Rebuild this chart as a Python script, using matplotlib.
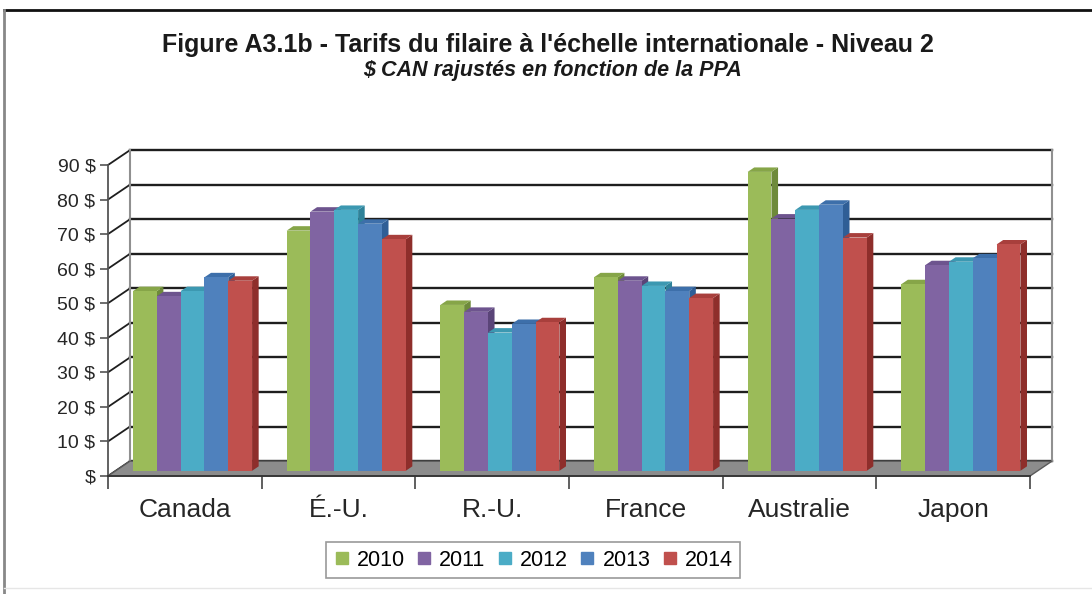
import numpy as np
import matplotlib.pyplot as plt
from matplotlib.patches import Polygon
from matplotlib.lines import Line2D

plt.rcParams['font.family'] = ['Liberation Sans', 'DejaVu Sans']

# données
pays = ['Canada', 'É.-U.', 'R.-U.', 'France', 'Australie', 'Japon']
annees = ['2010', '2011', '2012', '2013', '2014']
v2010 = [52, 69.5, 48, 56, 86.5, 54]
v2011 = [50.5, 75, 46, 55, 73, 59.5]
v2012 = [52, 75.5, 40, 53.5, 75.5, 60.5]
v2013 = [56, 71.5, 42.5, 52, 77, 61.5]
v2014 = [55, 67, 43, 50, 67.5, 65.5]
series = [v2010, v2011, v2012, v2013, v2014]
yticks = [0, 10, 20, 30, 40, 50, 60, 70, 80, 90]

couleurs = ['#9BBB59', '#8064A2', '#4BACC6', '#4F81BD', '#C0504D']
cotes = ['#6E8A3A', '#5A4478', '#2E8299', '#2F5E96', '#8E2E2B']
dessus = ['#86A548', '#6D548E', '#3C98B1', '#3D6FAA', '#A83F3C']

# pseudo 3D : décalage de profondeur en unités de données
DX, DY = 0.143, 4.3
t0, t1 = 0.35, 0.65
w = 0.155

fig = plt.figure(figsize=(10.92, 5.94), dpi=100)
ax = fig.add_axes([108/1092, 118/594, 922/1092, 311/594])
ax.set_xlim(0, 6)
ax.set_ylim(0, 90)
ax.patch.set_visible(False)

# mur du fond + quadrillage
for v in yticks:
    ax.plot([DX, 6 + DX], [v + DY, v + DY], color='#1e1e1e', lw=1.7, zorder=1, clip_on=False)
    ax.plot([0, DX], [v, v + DY], color='#1e1e1e', lw=1.3, zorder=1, clip_on=False)
ax.plot([DX, DX], [DY, 90 + DY], color='#909090', lw=1.5, zorder=1, clip_on=False)
ax.plot([6 + DX, 6 + DX], [DY, 90 + DY], color='#909090', lw=1.5, zorder=1, clip_on=False)

# sol
sol = Polygon([(0, 0), (6, 0), (6 + DX, DY), (DX, DY)], closed=True,
              facecolor='#8c8c8c', edgecolor='#5a5a5a', lw=1.0, zorder=2, clip_on=False)
ax.add_patch(sol)

# barres
x = np.arange(len(pays)) + 0.5
d = t1 - t0
z = 3
for i in range(len(pays)):
    for k, vals in enumerate(series):
        x0 = x[i] + (k - 2) * w - w / 2 + t0 * DX
        b = t0 * DY
        h = vals[i]
        top = b + h
        side = Polygon([(x0 + w, b), (x0 + w, top), (x0 + w + d * DX, top + d * DY),
                        (x0 + w + d * DX, b + d * DY)], closed=True,
                       facecolor=cotes[k], edgecolor='none', zorder=z, clip_on=False)
        ax.add_patch(side)
        dessus_p = Polygon([(x0, top), (x0 + w, top), (x0 + w + d * DX, top + d * DY),
                            (x0 + d * DX, top + d * DY)], closed=True,
                           facecolor=dessus[k], edgecolor='none', zorder=z, clip_on=False)
        ax.add_patch(dessus_p)
        ax.bar(x0, h, bottom=b, width=w, align='edge', color=couleurs[k],
               edgecolor='none', zorder=z + 0.5, clip_on=False)
        z += 1

# axes
for s in ['top', 'right']:
    ax.spines[s].set_visible(False)
ax.spines['left'].set_color('#555555')
ax.spines['left'].set_linewidth(1.3)
ax.spines['bottom'].set_color('#333333')
ax.spines['bottom'].set_linewidth(1.3)
ax.spines['left'].set_zorder(200)
ax.spines['bottom'].set_zorder(200)

ax.set_yticks(yticks)
ax.set_yticklabels([f'{v} $' if v else '$' for v in yticks])
ax.tick_params(axis='y', length=6, width=1.2, color='#555555', labelsize=14,
               labelcolor='#262626', pad=3)

ax.set_xticks(range(7))
ax.set_xticklabels([])
ax.tick_params(axis='x', which='major', length=9, width=1.2, color='#444444')
ax.set_xticks(x, minor=True)
ax.set_xticklabels(pays, minor=True)
ax.tick_params(axis='x', which='minor', length=0, labelsize=19, labelcolor='#262626', pad=16)

# titres
fig.text(0.502, 0.924, "Figure A3.1b - Tarifs du filaire à l'échelle internationale - Niveau 2",
         ha='center', va='center', fontsize=18, fontweight='bold', color='#1a1a1a')
fig.text(0.506, 0.882, '$ CAN rajustés en fonction de la PPA', ha='center', va='center',
         fontsize=15.5, fontweight='bold', fontstyle='italic', color='#1a1a1a')

# légende
poignees = [Line2D([], [], marker='s', ls='none', markersize=8, color=c) for c in couleurs]
leg = fig.legend(poignees, annees, loc='center', bbox_to_anchor=(0.488, 0.057), ncol=5,
                 frameon=True, fancybox=False, edgecolor='#808080', fontsize=15.5,
                 handlelength=0.8, handletextpad=0.3, columnspacing=0.5, borderpad=0.35)
leg.get_frame().set_linewidth(1.2)

# cadre de la figure
fig.add_artist(Line2D([4/1092, 1], [1 - 10/594, 1 - 10/594], color='#111111', lw=2))
fig.add_artist(Line2D([4/1092, 4/1092], [0, 1 - 10/594], color='#888888', lw=2))
fig.add_artist(Line2D([4/1092, 1], [6/594, 6/594], color='#e6e6e6', lw=1))

fig.savefig('out.png', dpi=100)
